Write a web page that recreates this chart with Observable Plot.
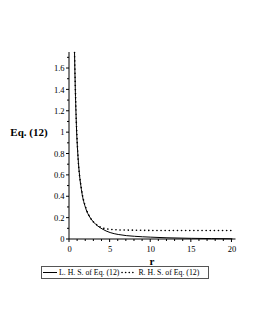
<!DOCTYPE html>
<html><head><meta charset="utf-8">
<script src="https://cdn.jsdelivr.net/npm/d3@7"></script>
<script src="https://cdn.jsdelivr.net/npm/@observablehq/plot@0.6"></script>
<style>
body{margin:0;background:#fff;}
#wrap{position:relative;width:255px;height:330px;font-family:'Liberation Serif','Times New Roman',Times,serif;}
#chart{position:absolute;left:0;top:0;}
#chart svg text{font-family:'Liberation Serif','Times New Roman',Times,serif;}
#legend{position:absolute;left:41px;top:266px;width:166px;height:11px;border:1px solid #555;font-size:7.8px;line-height:11px;white-space:nowrap;display:flex;align-items:center;color:#000;}
#legend svg{display:block}
</style>
</head><body>
<div id="wrap"><div id="chart"></div><div id="legend"></div></div>
<script>
const lhsR = [0.62,0.7,0.8,0.9,1.0,1.2,1.5,2,2.5,3,4,5,6,8,10,12,15,20];
const lhsY = [1.75,1.45,1.18,0.97,0.83,0.63,0.45,0.29,0.21,0.16,0.10,0.065,0.047,0.03,0.022,0.016,0.011,0.007];
const rhsR = [0.62,0.8,1.0,1.5,2,2.5,3,3.5,4,5,6,8,10,15,20];
const rhsY = [1.75,1.2,0.84,0.46,0.30,0.21,0.16,0.13,0.11,0.095,0.09,0.087,0.085,0.084,0.084];
const xTicks = [0,5,10,15,20];
const yTicks = [0,0.2,0.4,0.6,0.8,1,1.2,1.4,1.6];
const xMinor = d3.range(0,21,1);
const yMinor = d3.range(0,1.71,0.1);
const seriesNames = ["L. H. S. of Eq. (12)","R. H. S. of Eq. (12)"];
const yTitle = "Eq. (12)";
const xTitle = "r";
const FONT = "'Liberation Serif','Times New Roman',Times,serif";

const lhs = lhsR.map((r,i)=>({r, v: lhsY[i]}));
const rhs = rhsR.map((r,i)=>({r, v: rhsY[i]}));

const plot = Plot.plot({
  width: 255, height: 270,
  marginLeft: 69, marginRight: 19.5, marginTop: 52, marginBottom: 31,
  style: {fontFamily: FONT, fontSize: "8.5px", background: "transparent", color: "#000"},
  x: {domain: [0, 20.5], ticks: xTicks, tickSize: 0, tickPadding: 6, tickFormat: d=>String(d), label: null},
  y: {domain: [0, 1.75], ticks: yTicks, tickSize: 0, tickPadding: 5, tickFormat: d=>String(d), label: null},
  marks: [
    Plot.line(lhs, {x: "r", y: "v", stroke: "#000", strokeWidth: 1, curve: "monotone-x"}),
    Plot.line(rhs, {x: "r", y: "v", stroke: "#000", strokeWidth: 1.6, strokeDasharray: "0.1,4", strokeLinecap: "round", curve: "monotone-x"})
  ]
});
document.getElementById("chart").appendChild(plot);

const sx = plot.scale("x"), sy = plot.scale("y");
const svg = d3.select(plot);
const g = svg.append("g").attr("stroke","#000").attr("stroke-width",1);
xMinor.forEach(v=>{
  const px = sx.apply(v), big = xTicks.includes(v);
  g.append("line").attr("x1",px).attr("x2",px).attr("y1",sy.apply(0)).attr("y2",sy.apply(0)+(big?3:2));
});
yMinor.forEach(v=>{
  const py = sy.apply(v), big = yTicks.some(t=>Math.abs(t-v)<1e-6);
  g.append("line").attr("x1",sx.apply(0)-(big?3:2)).attr("x2",sx.apply(0)).attr("y1",py).attr("y2",py);
});
svg.append("line").attr("stroke","#000").attr("x1",sx.apply(0)).attr("x2",sx.apply(0)).attr("y1",sy.apply(1.75)).attr("y2",sy.apply(0));
svg.append("line").attr("stroke","#000").attr("x1",sx.apply(0)).attr("x2",sx.apply(20.5)).attr("y1",sy.apply(0)).attr("y2",sy.apply(0));
svg.append("text").attr("x",29).attr("y",sy.apply(0.99)).attr("text-anchor","middle").attr("dominant-baseline","middle")
  .attr("font-weight","bold").attr("font-size","11px").style("font-family",FONT).text(yTitle);
svg.append("text").attr("x",sx.apply(10.2)).attr("y",sy.apply(0)+26).attr("text-anchor","middle")
  .attr("font-weight","bold").attr("font-size","11px").style("font-family",FONT).text(xTitle);

const leg = document.getElementById("legend");
function sample(dash){
  const s = d3.create("svg").attr("width",16).attr("height",11);
  s.append("line").attr("x1",1).attr("x2",15).attr("y1",5.5).attr("y2",5.5).attr("stroke","#000")
   .attr("stroke-width", dash?1.6:1).attr("stroke-dasharray", dash?"0.1,3.5":null).attr("stroke-linecap", dash?"round":"butt");
  return s.node();
}
seriesNames.forEach((n,i)=>{
  leg.appendChild(sample(i===1));
  const sp = document.createElement("span"); sp.textContent = n; sp.style.margin = "0 2px 0 1px";
  leg.appendChild(sp);
});
</script>
</body></html>
